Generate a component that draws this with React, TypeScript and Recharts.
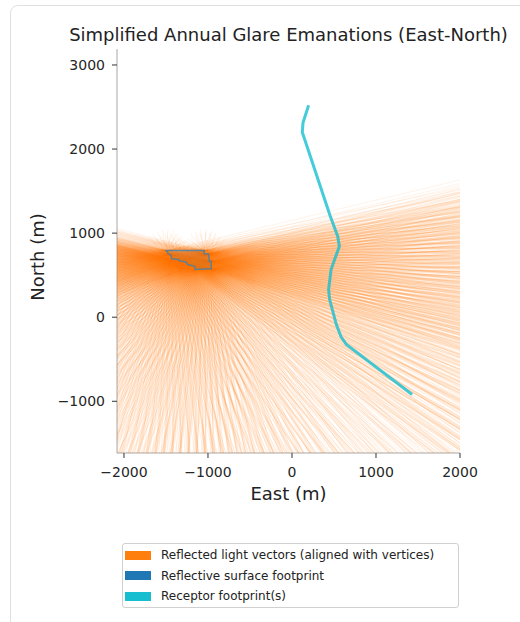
import React from "react";
import { ScatterChart, Scatter, XAxis, YAxis, Label } from "recharts";

const xTicks = [-2000, -1000, 0, 1000, 2000];
const yTicks = [-1000, 0, 1000, 2000, 3000];

// reflective surface outline (m east / m north)
const surfaceEast = [-1498, -1045, -1045, -994, -982, -962, -962, -1153, -1161, -1244, -1260, -1340, -1352, -1430, -1442, -1471];
const surfaceNorth = [793, 793, 754, 754, 666, 666, 575, 567, 606, 627, 654, 671, 686, 694, 734, 754];

// receptor footprint path
const receptorEast = [198, 131, 123, 456, 544, 564, 465, 436, 448, 528, 584, 647, 1430];
const receptorNorth = [2521, 2312, 2200, 1201, 963, 844, 567, 329, 210, -87, -233, -324, -919];

// directions of the reflected vectors, degrees from east, counter-clockwise
const rayAngles = [
  // eastern fan
  13.5, 12, 10.5, 9.5, 8.5, 7.5, 6.5, 5.5, 4.5, 3.5, 2.5, 1.5, 0.5, -0.5,
  -1.5, -2.5, -3.5, -4.5, -5.5, -6.5, -7.5, -8.5, -9.5, -10.5, -11.5,
  -12.5, -13.5, -14.5, -15.5, -16.5, -17.5, -19, -20.5, -22, -23.5, -25,
  -26.5, -28, -29.5, -31, -32.5, -34, -35.5,
  // southward
  -37, -39.5, -42, -44.5, -47, -49.5, -52, -54.5, -57, -59.5, -62, -64.5,
  -67, -69.5, -72, -74.5, -77, -79.5, -82, -84.5, -87, -89.5, -92, -94.5,
  -97, -99.5, -102, -104.5, -107, -109.5, -112, -114.5, -117, -119.5, -122,
  -124.5, -127, -129.5, -132, -134.5, -137, -139.5,
  // south-west and west
  -142, -144, -146, -148, -150, -152, -154, -156, -158, -160, -161, -162,
  -163, -164, -165, -166, -167, -168, -169, -170, -171, -172, -173, -174,
  -175, -176, -177, -178, -179, 180, 179, 178, 177, 176, 175, 174, 173, 172,
  171, 170, 169, 168, 167, 166,
];
const upwardAngles = [25, 40, 55, 70, 85, 100, 115, 130, 145, 160];
const rayLength = 8000;
const upwardLength = 250;

const legendItems = [
  { label: "Reflected light vectors (aligned with vertices)", color: "#ff7f0e" },
  { label: "Reflective surface footprint", color: "#1f77b4" },
  { label: "Receptor footprint(s)", color: "#17becf" },
];

type Pt = { x: number; y: number };

const surface: Pt[] = surfaceEast.map((x, i) => ({ x, y: surfaceNorth[i] }));
const receptor: Pt[] = receptorEast.map((x, i) => ({ x, y: receptorNorth[i] }));

const raysFrom = (o: Pt, angles: number[], len: number): Pt[] =>
  angles.flatMap((a) => {
    const r = (a * Math.PI) / 180;
    return [o, { x: o.x + len * Math.cos(r), y: o.y + len * Math.sin(r) }];
  });

const raySets = surface.map((o) =>
  raysFrom(o, rayAngles, rayLength).concat(raysFrom(o, upwardAngles, upwardLength))
);

const noDot = () => <g />;

// draws each (origin, end) pair as its own line so alpha builds up
const renderRays = (props: any) => {
  const pts = props.points || [];
  const out = [];
  for (let i = 0; i + 1 < pts.length; i += 2) {
    out.push(
      <line
        key={i}
        x1={pts[i].x}
        y1={pts[i].y}
        x2={pts[i + 1].x}
        y2={pts[i + 1].y}
        stroke="#ff7f0e"
        strokeOpacity={0.09}
        strokeWidth={1}
      />
    );
  }
  return <g>{out}</g>;
};

const renderSurface = (props: any) => {
  const pts = (props.points || []).map((p: any) => `${p.x},${p.y}`).join(" ");
  return (
    <polygon
      points={pts}
      fill="#1f77b4"
      fillOpacity={0.1}
      stroke="#3d85b0"
      strokeOpacity={0.8}
      strokeWidth={1.5}
    />
  );
};

const fmt = (v: number) => String(v).replace("-", "\u2212");

const font = "'DejaVu Sans', sans-serif";

export default function App() {
  return (
    <div
      style={{
        position: "absolute",
        left: 0,
        top: 0,
        width: 520,
        height: 622,
        overflow: "hidden",
        background: "#fff",
        fontFamily: font,
      }}
    >
      <div
        style={{
          position: "absolute",
          left: 10,
          top: 5,
          width: 600,
          height: 700,
          border: "1px solid #e0e0e0",
          borderRadius: 8,
        }}
      />
      <svg width={520} height={622} style={{ position: "absolute", left: 0, top: 0 }}>
        <text x={288.5} y={41} textAnchor="middle" fontSize={18} fill="#222" fontFamily={font}>
          Simplified Annual Glare Emanations (East-North)
        </text>
        <text
          x={44}
          y={257}
          textAnchor="middle"
          fontSize={18}
          fill="#222"
          fontFamily={font}
          transform="rotate(-90 44 257)"
        >
          North (m)
        </text>
      </svg>
      <div style={{ position: "absolute", left: 0, top: 0 }}>
        <ScatterChart width={520} height={622} margin={{ top: 49, right: 60, bottom: 139, left: 37 }}>
          <XAxis
            type="number"
            dataKey="x"
            domain={[-2083, 2000]}
            allowDataOverflow
            ticks={xTicks}
            tickFormatter={fmt}
            height={30}
            tickSize={5}
            tickMargin={9}
            axisLine={{ stroke: "#a8a8a8" }}
            tickLine={{ stroke: "#333" }}
            tick={{ fontSize: 14, fill: "#262626", fontFamily: font }}
          >
            <Label
              value="East (m)"
              position="bottom"
              offset={4}
              style={{ fontSize: 18, fill: "#222", fontFamily: font }}
            />
          </XAxis>
          <YAxis
            type="number"
            dataKey="y"
            domain={[-1615, 3190]}
            allowDataOverflow
            ticks={yTicks}
            tickFormatter={fmt}
            width={80}
            tickSize={5}
            tickMargin={7}
            axisLine={{ stroke: "#a8a8a8" }}
            tickLine={{ stroke: "#333" }}
            tick={{ fontSize: 14, fill: "#262626", fontFamily: font }}
          />
          {raySets.map((d, i) => (
            <Scatter
              key={i}
              data={d}
              line={renderRays}
              shape={noDot}
              legendType="none"
              isAnimationActive={false}
            />
          ))}
          <Scatter data={surface} line={renderSurface} shape={noDot} isAnimationActive={false} />
          <Scatter
            data={receptor}
            line={{ stroke: "#17becf", strokeWidth: 3, strokeOpacity: 0.8 }}
            shape={noDot}
            isAnimationActive={false}
          />
        </ScatterChart>
      </div>
      <div
        style={{
          position: "absolute",
          left: 122,
          top: 543,
          width: 335,
          height: 63,
          border: "1px solid #d0d0d0",
          borderRadius: 3,
          background: "#fff",
          fontSize: 12,
          color: "#222",
        }}
      >
        {legendItems.map((it, i) => (
          <div
            key={it.label}
            style={{ position: "absolute", left: 2, top: 4 + i * 20.5, height: 14, display: "flex", alignItems: "center" }}
          >
            <span style={{ display: "inline-block", width: 26, height: 9, background: it.color, marginRight: 10 }} />
            <span style={{ whiteSpace: "nowrap" }}>{it.label}</span>
          </div>
        ))}
      </div>
    </div>
  );
}
